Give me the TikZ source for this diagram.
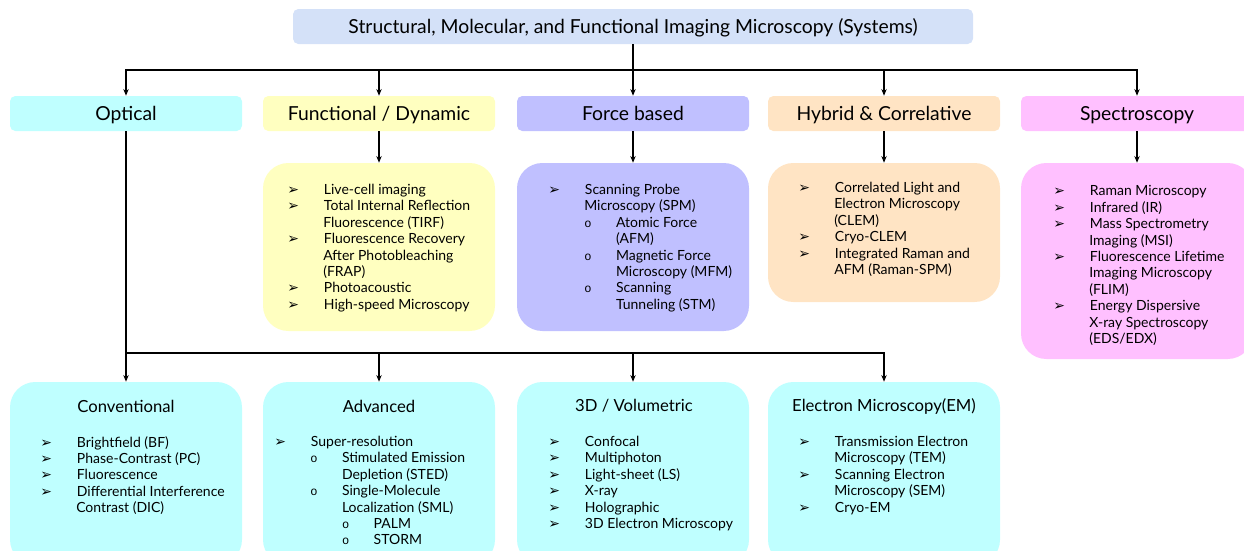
\documentclass[tikz,border=0pt]{standalone}
\usepackage{fontspec}
\setmainfont{Lato}
\newfontfamily\dejavu{DejaVu Sans}
\newfontfamily\monofnt{Liberation Mono}
\usepackage{tikz}
\usetikzlibrary{arrows.meta}
\definecolor{titleblue}{RGB}{212,225,248}
\definecolor{optcyan}{RGB}{191,255,255}
\definecolor{funyellow}{RGB}{255,255,192}
\definecolor{frcviolet}{RGB}{192,192,255}
\definecolor{hybpeach}{RGB}{255,228,196}
\definecolor{spcpink}{RGB}{255,192,255}
% box from (x1,y1) to (x2,y2) in pixels, with a text in the middle
\newcommand{\pane}[8]{\node[draw=none,fill=#2,rounded corners=#7,inner sep=0pt,text height=10pt,text depth=0pt,minimum width={(#5-#3)*0.75pt},minimum height={(#6-#4)*0.75pt}] (#1) at ({(#3+#5)/2},{(#4+#6)/2}) {#8};}
\newcommand{\hdrfont}{\fontsize{14.5}{14.5}\selectfont}
\newcommand{\arw}{\makebox[27.5pt][l]{\dejavu\fontsize{10.5}{10.5}\selectfont ➢}}
\newcommand{\cir}{\makebox[23.8pt][l]{\monofnt\fontsize{9}{9}\selectfont o}}
\newcommand{\gap}{\hspace*{27pt}}
\newcommand{\cgap}{\hspace*{23.8pt}}

\begin{document}
\begin{tikzpicture}[x=0.75pt,y=-0.75pt,
    conn/.style={line width=0.8pt},
    arrowln/.style={line width=0.8pt,-{Stealth[length=5pt,width=4pt]}},
    boxttl/.style={font=\fontsize{12.5}{12.5}\selectfont},
    listtxt/.style={anchor=north west,inner sep=0pt,align=left,font=\fontsize{10.5}{12.3}\selectfont}]
    \useasboundingbox (0,0) rectangle (1244,550);
    % top
    \pane{sys}{titleblue}{293}{9}{973}{44}{4pt}{\hdrfont Structural, Molecular, and Functional Imaging Microscopy (Systems)}
    % headers
    \pane{opt}{optcyan}{10}{96}{242}{131}{4pt}{\hdrfont Optical}
    \pane{fun}{funyellow}{263}{96}{495}{131}{4pt}{\hdrfont Functional / Dynamic}
    \pane{frc}{frcviolet}{517}{96}{749}{131}{4pt}{\hdrfont Force based}
    \pane{hyb}{hybpeach}{768}{96}{1000}{131}{4pt}{\hdrfont Hybrid \& Correlative}
    \pane{spc}{spcpink}{1021}{96}{1253}{131}{4pt}{\hdrfont Spectroscopy}
    % boxes row 1
    \pane{funbox}{funyellow}{263}{163}{495}{331}{19pt}{}
    \pane{frcbox}{frcviolet}{517}{163}{749}{331}{19pt}{}
    \pane{hybbox}{hybpeach}{768}{163}{1000}{302}{19pt}{}
    \pane{spcbox}{spcpink}{1021}{163}{1253}{359}{19pt}{}
    % boxes row 2
    \pane{conv}{optcyan}{10}{382}{242}{565}{19pt}{}
    \pane{adv}{optcyan}{263}{382}{495}{565}{19pt}{}
    \pane{vol}{optcyan}{517}{382}{749}{565}{19pt}{}
    \pane{em}{optcyan}{768}{382}{1000}{565}{19pt}{}
    % titles row 2
    \node[boxttl] (convttl) at (126,406) {Conventional};
    \node[boxttl] (advttl) at (379,406) {Advanced};
    \node[boxttl] (volttl) at (634,406) {3D / Volumetric};
    \node[boxttl] (emttl) at (884,406) {Electron Microscopy(EM)};
    % lists row 1
    \node[listtxt] (funlist) at (287,184) {\arw Live-cell imaging\\ \arw Total Internal Reflection\\ \gap Fluorescence (TIRF)\\
        \arw Fluorescence Recovery\\ \gap After Photobleaching\\ \gap (FRAP)\\ \arw Photoacoustic\\ \arw High-speed Microscopy};
    \node[listtxt] (frclist) at (548,184) {\arw Scanning Probe\\ \gap Microscopy (SPM)\\ \gap\cir Atomic Force\\ \gap\cgap (AFM)\\
        \gap\cir Magnetic Force\\ \gap\cgap Microscopy (MFM)\\ \gap\cir Scanning\\ \gap\cgap Tunneling (STM)};
    \node[listtxt] (hyblist) at (798,182) {\arw Correlated Light and\\ \gap Electron Microscopy\\ \gap (CLEM)\\ \arw Cryo-CLEM\\
        \arw Integrated Raman and\\ \gap AFM (Raman-SPM)};
    \node[listtxt] (spclist) at (1053,185.5) {\arw Raman Microscopy\\ \arw Infrared (IR)\\ \arw Mass Spectrometry\\ \gap Imaging (MSI)\\
        \arw Fluorescence Lifetime\\ \gap Imaging Microscopy\\ \gap (FLIM)\\ \arw Energy Dispersive\\ \gap X-ray Spectroscopy\\ \gap (EDS/EDX)};
    % lists row 2
    \node[listtxt] (convlist) at (40,436) {\arw Brightfield (BF)\\ \arw Phase-Contrast (PC)\\ \arw Fluorescence\\
        \arw Differential Interference\\ \gap Contrast (DIC)};
    \node[listtxt] (advlist) at (274,436) {\arw Super-resolution\\ \gap\cir Stimulated Emission\\ \gap\cgap Depletion (STED)\\
        \gap\cir Single-Molecule\\ \gap\cgap Localization (SML)\\ \gap\cgap\cir PALM\\ \gap\cgap\cir STORM};
    \node[listtxt] (vollist) at (548,436) {\arw Confocal\\ \arw Multiphoton\\ \arw Light-sheet (LS)\\ \arw X-ray\\ \arw Holographic\\
        \arw 3D Electron Microscopy};
    \node[listtxt] (emlist) at (798,436) {\arw Transmission Electron\\ \gap Microscopy (TEM)\\ \arw Scanning Electron\\
        \gap Microscopy (SEM)\\ \arw Cryo-EM};
    % connectors
    \coordinate (bus) at (633,70);
    \draw[conn] (sys.south) -- (bus);
    \foreach \h in {opt,fun,frc,hyb,spc}
        \draw[arrowln] (bus) -| (\h.north);
    \foreach \h/\b in {fun/funbox,frc/frcbox,hyb/hybbox,spc/spcbox}
        \draw[arrowln] (\h.south) -- (\b.north);
    \coordinate (optbus) at (126,353);
    \draw[conn,line width=1.1pt] (opt.south) -- (optbus);
    \foreach \b in {conv,adv,vol,em}
        \draw[arrowln] (optbus) -| (\b.north);
\end{tikzpicture}
\end{document}
